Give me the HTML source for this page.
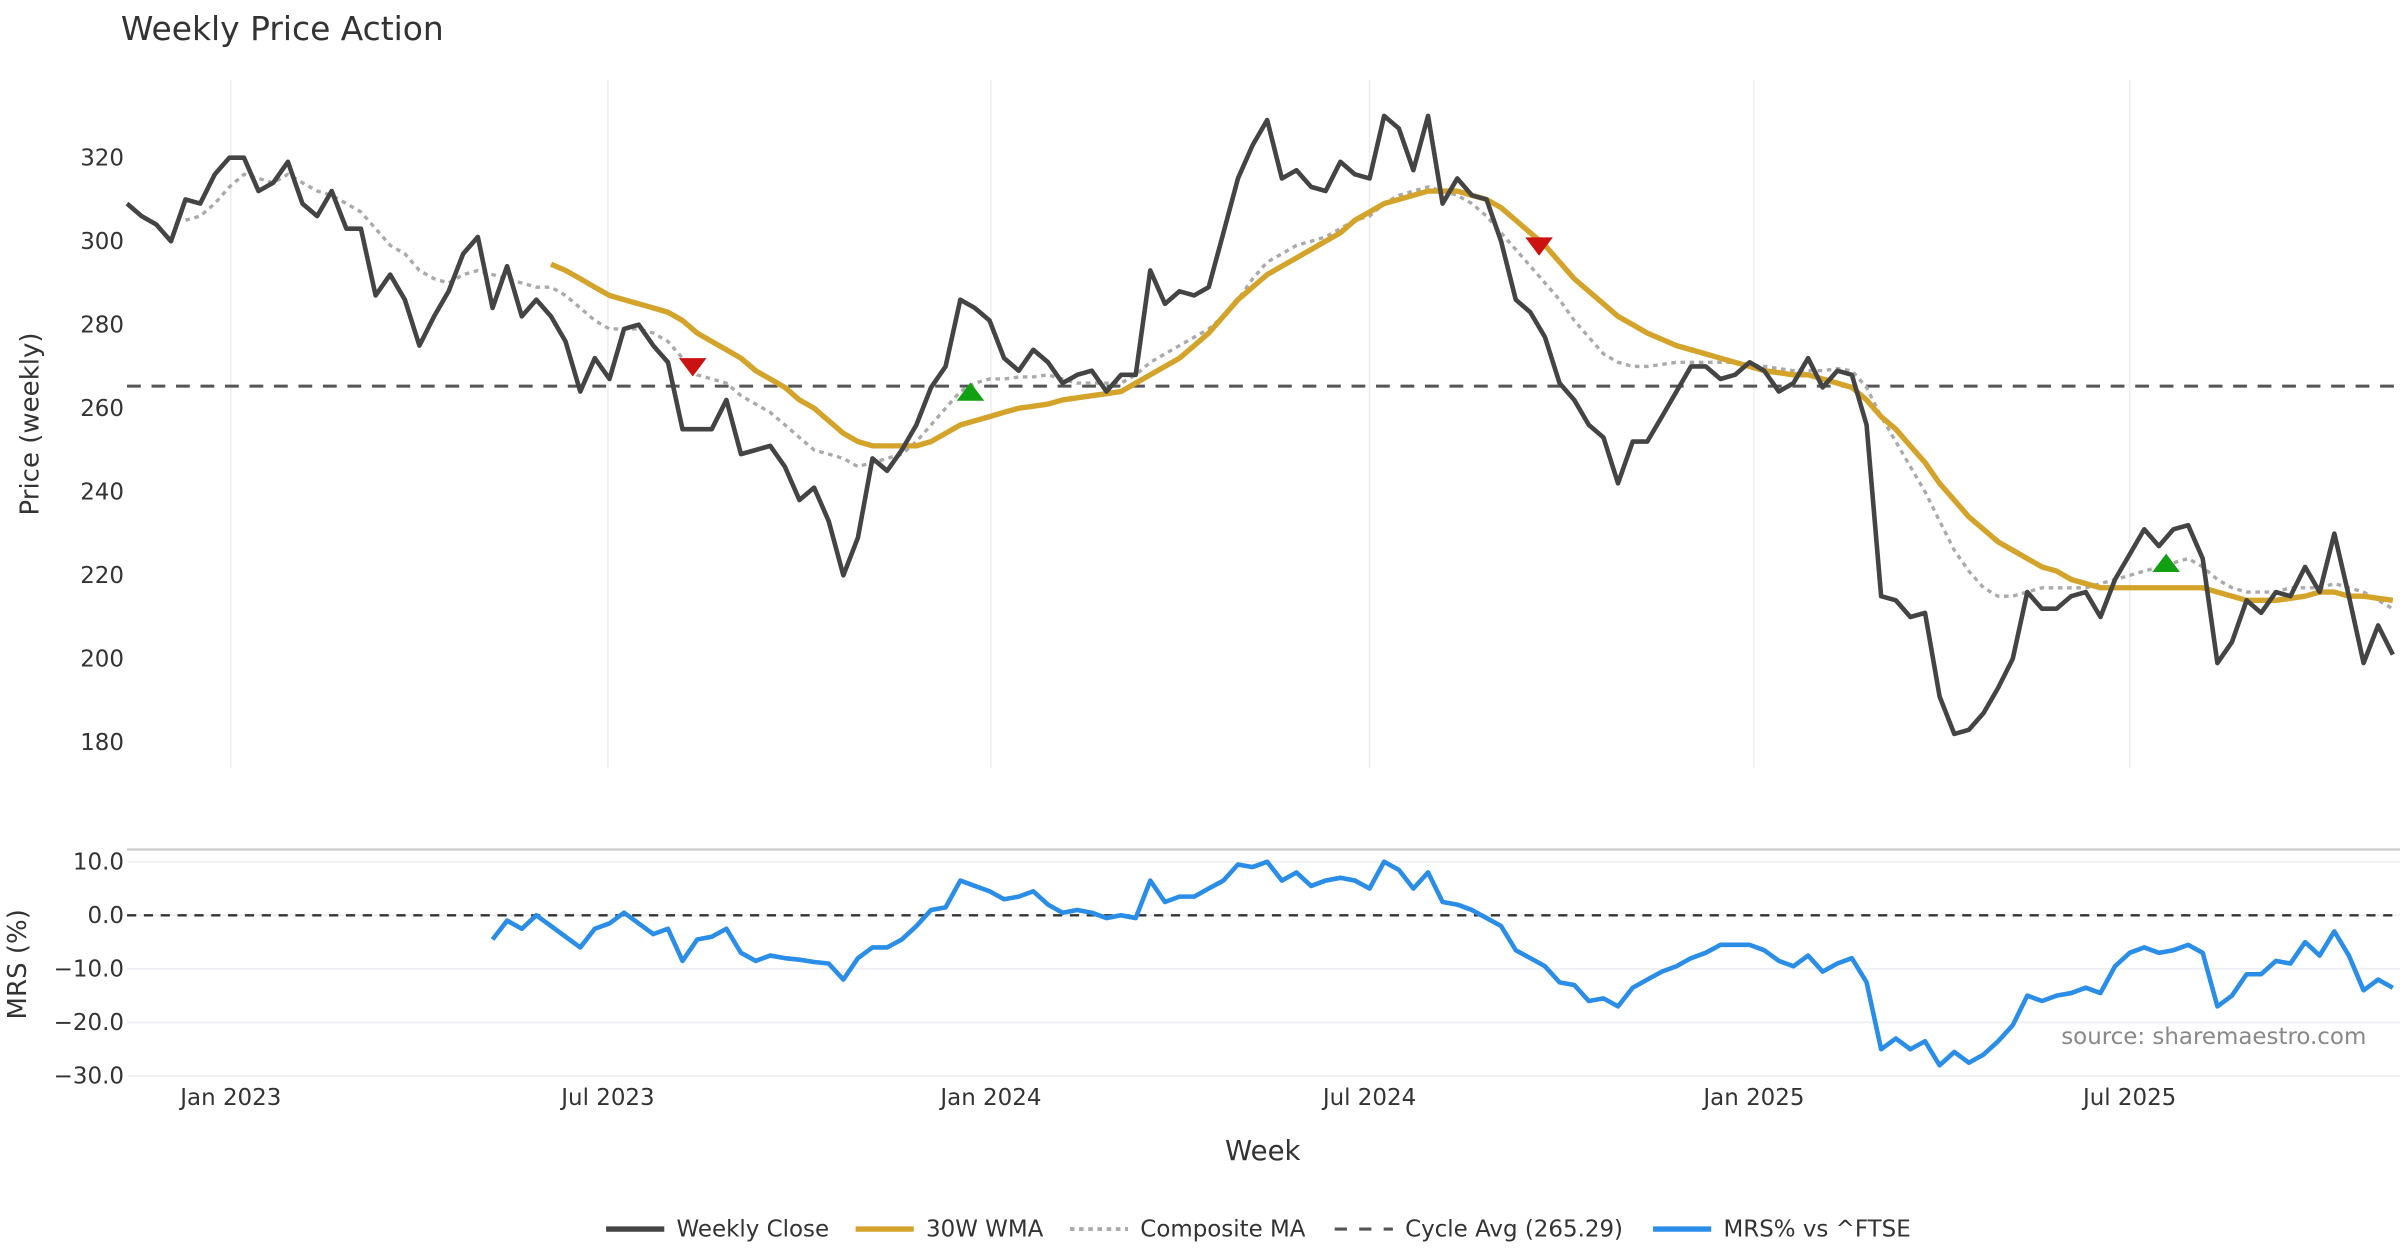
<!DOCTYPE html>
<html><head><meta charset="utf-8"><style>
html,body{margin:0;padding:0;background:#fff;}
svg{display:block;font-family:"DejaVu Sans","Liberation Sans",sans-serif;}
</style></head><body>
<svg id="chart" width="2400" height="1260" viewBox="0 0 1568 823.2" xmlns="http://www.w3.org/2000/svg">
<rect x="0" y="0" width="1568" height="823.2" fill="#fff"/>
<text x="79" y="26" font-size="21.5" fill="#333">Weekly Price Action</text>
<g id="grid"></g>
<g id="axes"></g>
<g id="series"></g>
<text transform="translate(25,277) rotate(-90)" text-anchor="middle" font-size="17" fill="#333">Price (weekly)</text>
<text transform="translate(17,630) rotate(-90)" text-anchor="middle" font-size="17" fill="#333">MRS (%)</text>
<text x="825" y="758" text-anchor="middle" font-size="18" fill="#333">Week</text>
<text x="1546" y="682" text-anchor="end" font-size="15" fill="#888">source: sharemaestro.com</text>
<g font-size="15" fill="#333">
  <g><line x1="396" y1="803" x2="434" y2="803" stroke="#444" stroke-width="3.5"/><text x="442" y="808">Weekly Close</text></g>
  <g><line x1="559" y1="803" x2="597" y2="803" stroke="#d4a32a" stroke-width="3.5"/><text x="605" y="808">30W WMA</text></g>
  <g><line x1="699" y1="803" x2="737" y2="803" stroke="#aaa" stroke-width="2.5" stroke-dasharray="3,3"/><text x="745" y="808">Composite MA</text></g>
  <g><line x1="872" y1="803" x2="910" y2="803" stroke="#555" stroke-width="2" stroke-dasharray="8,8"/><text x="918" y="808">Cycle Avg (265.29)</text></g>
  <g><line x1="1080" y1="803" x2="1118" y2="803" stroke="#2a8ee8" stroke-width="3.5"/><text x="1126" y="808">MRS% vs ^FTSE</text></g>
</g>
</svg>
<script>
const closeVals=[309,306,304,300,310,309,316,320,320,312,314,319,309,306,312,303,303,287,292,286,275,282,288,297,301,284,294,282,286,282,276,264,272,267,279,280,275,271,255,255,255,262,249,250,251,246,238,241,233,220,229,248,245,250,256,265,270,286,284,281,272,269,274,271,266,268,269,264,268,268,293,285,288,287,289,302,315,323,329,315,317,313,312,319,316,315,330,327,317,330,309,315,311,310,300,286,283,277,266,262,256,253,242,252,252,258,264,270,270,267,268,271,269,264,266,272,265,269,268,256,215,214,210,211,191,182,183,187,193,200,216,212,212,215,216,210,219,225,231,227,231,232,224,199,204,214,211,216,215,222,216,230,215,199,208,201];
const wmaStart=29;
const wmaVals=[294.5,293,291,289,287,286,285,284,283,281,278,276,274,272,269,267,265,262,260,257,254,252,251,251,251,251,252,254,256,257,258,259,260,260.5,261,262,262.5,263,263.5,264,266,268,270,272,275,278,282,286,289,292,294,296,298,300,302,305,307,309,310,311,312,312,312,311,310,308,305,302,299,295,291,288,285,282,280,278,276.5,275,274,273,272,271,270,269,268.5,268,268,267,266,265,262,258,255,251,247,242,238,234,231,228,226,224,222,221,219,218,217,217,217,217,217,217,217,217,216,215,214,214,214,214.5,215,216,216,215,215,214.5,214];
const compStart=4;
const compVals=[305,306,309,313,316,315,314,316,314,312,311,309,307,303,299,297,293,291,290,292,293,292,291,290,289,289,287,284,281,279,279,279,278,276,272,268,267,266,263,261,259,256,253,250,249,248,246,247,248,249,252,256,260,264,266,267,267,267.5,267.5,268,267,266,266,266,266,268,271,273,275,277,279,282,286,291,295,297,299,300,301,303,305,306,309,311,312,313,312,311,309,306,302,298,294,290,286,281,277,273,271,270,270,270.5,271,271,271,271,271,270.5,270,269.5,269,269,269,269.5,269,265,258,252,246,240,233,226,221,217,215,215,216,217,217,217,217,218,219,220,221,222,223,224,222,219,217,216,216,216,217,217,217,218,217,216,214,212];
const cycleAvg=265.29;
const sellIdx=[38.7,96.6];
const sellVals=[269.8,298.7];
const buyIdx=[57.7,139.5];
const buyVals=[264,223];
const mrsStart=25;
const mrsVals=[-4.5,-1,-2.5,0,-2,-4,-6,-2.5,-1.5,0.5,-1.5,-3.5,-2.5,-8.5,-4.5,-4,-2.5,-7,-8.5,-7.5,-8,-8.3,-8.7,-9,-12,-8,-6,-6,-4.5,-2,1,1.5,6.5,5.5,4.5,3,3.5,4.5,2,0.5,1,0.5,-0.5,0,-0.5,6.5,2.5,3.5,3.5,5,6.5,9.5,9,10,6.5,8,5.5,6.5,7,6.5,5,10,8.5,5,8,2.5,2,1,-0.5,-2,-6.5,-8,-9.5,-12.5,-13,-16,-15.5,-17,-13.5,-12,-10.5,-9.5,-8,-7,-5.5,-5.5,-5.5,-6.5,-8.5,-9.5,-7.5,-10.5,-9,-8,-12.5,-25,-23,-25,-23.5,-28,-25.5,-27.5,-26,-23.5,-20.5,-15,-16,-15,-14.5,-13.5,-14.5,-9.5,-7,-6,-7,-6.5,-5.5,-7,-17,-15,-11,-11,-8.5,-9,-5,-7.5,-3,-7.5,-14,-12,-13.5];
const priceTicks=[180,200,220,240,260,280,300,320];
const mrsTicks=[10,0,-10,-20,-30];
const monthLabels=["Jan 2023","Jul 2023","Jan 2024","Jul 2024","Jan 2025","Jul 2025"];
const monthWeeks=[7.1,32.9,59.1,85,111.3,137];

const NS="http://www.w3.org/2000/svg";
const xS=i=>83+i*9.55;
const yP=v=>103+(320-v)*2.7286;
const yM=v=>598-v*3.5;
function mk(tag,attrs,parent){const e=document.createElementNS(NS,tag);for(const k in attrs)e.setAttribute(k,attrs[k]);parent.appendChild(e);return e;}
const grid=document.getElementById('grid'),axes=document.getElementById('axes'),ser=document.getElementById('series');

monthWeeks.forEach((w,k)=>{
  const g=mk('line',{x1:xS(w),x2:xS(w),y1:52,y2:502,stroke:'#eceef2','stroke-width':1},grid);
  
  
  const t=mk('text',{x:xS(w),y:722,'text-anchor':'middle','font-size':15,fill:'#333'},axes);
  t.textContent=monthLabels[k];
  
  
});
priceTicks.forEach(v=>{
  const t=mk('text',{x:81,y:yP(v)+5,'text-anchor':'end','font-size':15,fill:'#333'},axes);
  t.textContent=v;
  
  
});
const sep=mk('line',{x1:83,x2:1568,y1:555,y2:555,stroke:'#ccc','stroke-width':1.5},grid);


mrsTicks.forEach(v=>{
  const g=mk('line',{x1:83,x2:1568,y1:yM(v),y2:yM(v),stroke:'#eceef2','stroke-width':1},grid);
  
  
  const t=mk('text',{x:81,y:yM(v)+5,'text-anchor':'end','font-size':15,fill:'#333'},axes);
  t.textContent=(v<0?'\u2212'+Math.abs(v).toFixed(1):v.toFixed(1));
  
  
});
function pts(vals,start,yf){return vals.map((v,i)=>xS(i+start).toFixed(1)+','+yf(v).toFixed(1)).join(' ');}

const cyc=mk('line',{x1:83,x2:1568,y1:yP(cycleAvg),y2:yP(cycleAvg),stroke:'#555','stroke-width':2,'stroke-dasharray':'9,7'},ser);


const comp=mk('polyline',{points:pts(compVals,compStart,yP),fill:'none',stroke:'#aaa','stroke-width':2.2,'stroke-dasharray':'3,3'},ser);


const wma=mk('polyline',{points:pts(wmaVals,wmaStart,yP),fill:'none',stroke:'#d4a32a','stroke-width':3.5,'stroke-linejoin':'round'},ser);


const cl=mk('polyline',{points:pts(closeVals,0,yP),fill:'none',stroke:'#444','stroke-width':3,'stroke-linejoin':'round'},ser);


sellIdx.forEach((w,k)=>{
  const x=xS(w),y=yP(sellVals[k]);
  const p=mk('polygon',{points:`${x-9},${y-6} ${x+9},${y-6} ${x},${y+6}`,fill:'#cc1111'},ser);
  
  
});
buyIdx.forEach((w,k)=>{
  const x=xS(w),y=yP(buyVals[k]);
  const p=mk('polygon',{points:`${x-9},${y+6} ${x+9},${y+6} ${x},${y-6}`,fill:'#11a011'},ser);
  
  
});
const z=mk('line',{x1:83,x2:1568,y1:yM(0),y2:yM(0),stroke:'#333','stroke-width':1.5,'stroke-dasharray':'6,5'},ser);


const mrs=mk('polyline',{points:pts(mrsVals,mrsStart,yM),fill:'none',stroke:'#2a8ee8','stroke-width':3,'stroke-linejoin':'round'},ser);


</script>
</body></html>
